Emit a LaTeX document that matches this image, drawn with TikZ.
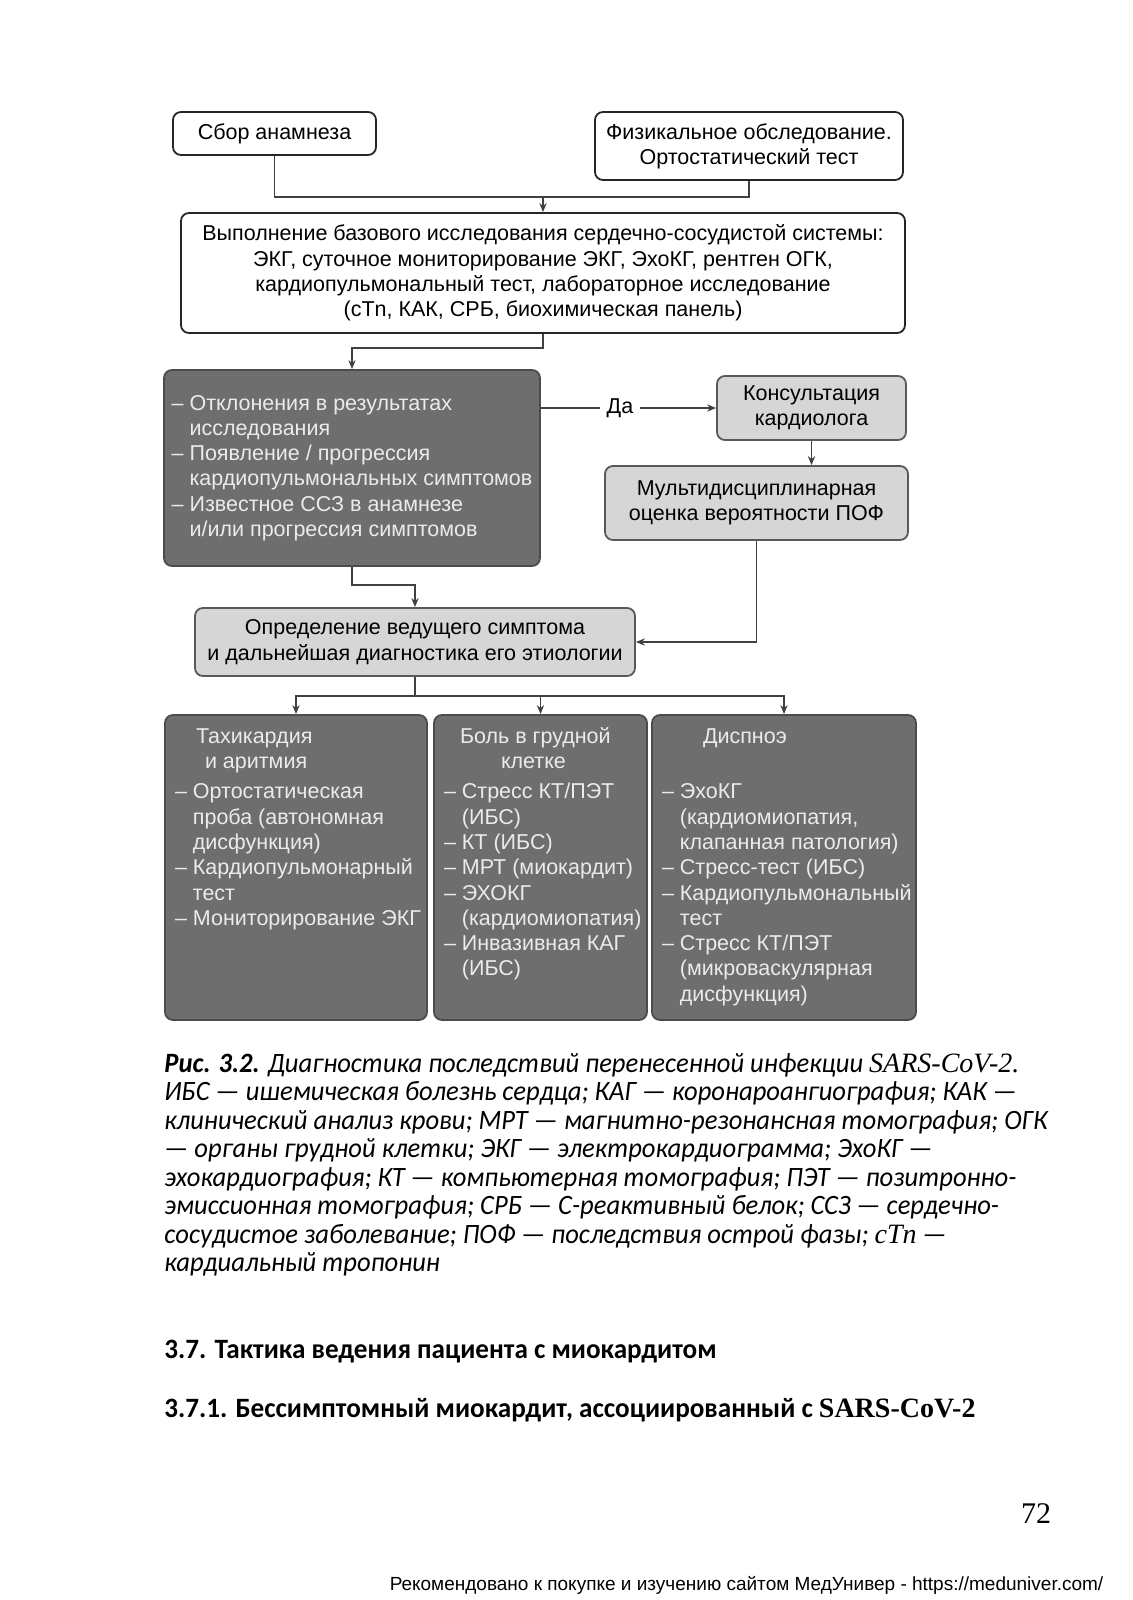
\documentclass[tikz,border=0pt]{standalone}
\usepackage{fontspec}
\setmainfont{Liberation Sans}
\newfontfamily\podpis[FakeStretch=0.95]{Carlito}
\newfontfamily\zagfont[FakeStretch=0.97]{Carlito}
\newfontfamily\latinica{Liberation Serif}
\usetikzlibrary{arrows.meta}
\newcommand{\diag}{\fontsize{10.75}{12.65}\selectfont}
\newcommand{\dal}{\phantom{– }}
\newcommand{\kolonka}[2]{\parbox[c][146pt][t]{#1}{\vspace*{2pt}\begin{tabular}{@{}l@{}}#2\end{tabular}}}
\tikzset{
  blok/.style={draw=black!85,fill=white,rounded corners=4pt,line width=0.9pt,align=center,font=\diag},
  seryj/.style={blok,draw=black!65,fill=black!16},
  temnyj/.style={draw=black!70,fill=black!57,rounded corners=4pt,line width=0.9pt,text=black!8,align=left,font=\diag},
  kolon/.style={temnyj,inner xsep=5pt,inner ysep=3.25pt,minimum height=152.5pt},
  liniya/.style={draw=black!75,line width=0.75pt},
  strelka/.style={liniya,-{Stealth[length=4.5pt,width=3.6pt]}},
}

\begin{document}
\begin{tikzpicture}[x=0.5pt,y=-0.5pt,>=Stealth]
  \fill[white] (0,0) rectangle (1132,1600);
  \useasboundingbox (0,0) rectangle (1132,1600);

  % verkhnij ryad
  \node[blok,minimum width=101.5pt,minimum height=21.5pt] (sbor) at (274.5,133.5) {Сбор анамнеза};
  \node[blok,minimum width=154pt,minimum height=34pt] (fiz) at (749,146) {Физикальное обследование.\\Ортостатический тест};
  \node[blok,minimum width=362pt,minimum height=60pt] (baza) at (543,273) {Выполнение базового исследования сердечно-сосудистой системы:\\ЭКГ, суточное мониторирование ЭКГ, ЭхоКГ, рентген ОГК,\\кардиопульмональный тест, лабораторное исследование\\(cTn, КАК, СРБ, биохимическая панель)};

  % otkloneniya i konsultaciya
  \node[temnyj,minimum width=188pt,minimum height=98pt] (otkl) at (352,468) {– Отклонения в результатах\\\dal исследования\\– Появление / прогрессия\\\dal кардиопульмональных симптомов\\– Известное ССЗ в анамнезе\\\dal и/или прогрессия симптомов};
  \node[seryj,minimum width=94.5pt,minimum height=32pt] (kons) at (811.5,408) {Консультация\\кардиолога};
  \node[seryj,minimum width=151.5pt,minimum height=37pt] (multi) at (756.5,503) {Мультидисциплинарная\\оценка вероятности ПОФ};
  \node[font=\diag,inner sep=3pt] (da) at (620,408) {Да};
  \node[seryj,minimum width=220pt,minimum height=34pt] (vedush) at (415,642) {Определение ведущего симптома\\и дальнейшая диагностика его этиологии};

  % tri kolonki
  \node[kolon,minimum width=131pt] (tahi) at (296,867.5) {\kolonka{121pt}{\hspace*{10.5pt}Тахикардия\\\hspace*{15pt}и аритмия\\[2.5pt]– Ортостатическая\\\dal проба (автономная\\\dal дисфункция)\\– Кардиопульмонарный\\\dal тест\\– Мониторирование ЭКГ}};
  \node[kolon,minimum width=106.5pt] (bol) at (540.5,867.5) {\kolonka{96.5pt}{\hspace*{8pt}Боль в грудной\\\hspace*{28.5pt}клетке\\[2.5pt]– Стресс КТ/ПЭТ\\\dal (ИБС)\\– КТ (ИБС)\\– МРТ (миокардит)\\– ЭХОКГ\\\dal (кардиомиопатия)\\– Инвазивная КАГ\\\dal (ИБС)}};
  \node[kolon,minimum width=132pt] (disp) at (784,867.5) {\kolonka{122pt}{\hspace*{20.5pt}Диспноэ\\\hspace*{20.5pt}\strut\\[2.5pt]– ЭхоКГ\\\dal (кардиомиопатия,\\\dal клапанная патология)\\– Стресс-тест (ИБС)\\– Кардиопульмональный\\\dal тест\\– Стресс КТ/ПЭТ\\\dal (микроваскулярная\\\dal дисфункция)}};

  % svyazi
  \coordinate (j1) at (543,197);
  \coordinate (j2) at (543,348);
  \coordinate (j3) at (352,585);
  \coordinate (j4) at (415,696);
  \draw[liniya] (sbor.south) |- (j1) -| (fiz.south);
  \draw[strelka] (j1) -- (baza.north);
  \draw[strelka] (baza.south) -- (j2) -| (otkl.north);
  \draw[liniya] (kons.west -| otkl.east) -- (da);
  \draw[strelka] (da) -- (kons.west);
  \draw[strelka] (kons.south) -- (kons.south |- multi.north);
  \draw[strelka] (multi.south) |- (vedush.east);
  \draw[strelka] (otkl.south) -- (j3) -| (vedush.north);
  \draw[liniya] (vedush.south) -- (j4);
  \foreach \k in {tahi,bol,disp}
    \draw[strelka] (j4) -| (\k.north);

  % podpis i zagolovki
  \node[anchor=north west,inner sep=0pt,align=left,font=\podpis\itshape\fontsize{14}{14.25}\selectfont] (ris) at (164,1053)
    {{\bfseries Рис. 3.2.} Диагностика последствий перенесенной инфекции {\latinica\itshape SARS-CoV-2.}\\
     ИБС — ишемическая болезнь сердца; КАГ — коронароангиография; КАК —\\
     клинический анализ крови; МРТ — магнитно-резонансная томография; ОГК\\
     — органы грудной клетки; ЭКГ — электрокардиограмма; ЭхоКГ —\\
     эхокардиография; КТ — компьютерная томография; ПЭТ — позитронно-\\
     эмиссионная томография; СРБ — С-реактивный белок; ССЗ — сердечно-\\
     сосудистое заболевание; ПОФ — последствия острой фазы; {\latinica\itshape cTn} —\\
     кардиальный тропонин};
  \node[anchor=west,inner sep=0pt,font=\zagfont\bfseries\fontsize{14}{16}\selectfont] (zag1) at (164,1352) {3.7. Тактика ведения пациента с миокардитом};
  \node[anchor=west,inner sep=0pt,font=\zagfont\bfseries\fontsize{14}{16}\selectfont] (zag2) at (164,1410) {3.7.1. Бессимптомный миокардит, ассоциированный с {\latinica\bfseries SARS-CoV-2}};
  \node[inner sep=0pt,font=\latinica\fontsize{15}{17}\selectfont] (str) at (1036,1514) {72};
  \node[inner sep=0pt,font=\fontsize{9.5}{11}\selectfont] (snoska) at (746.5,1585) {Рекомендовано к покупке и изучению сайтом МедУнивер - https://meduniver.com/};
\end{tikzpicture}
\end{document}
